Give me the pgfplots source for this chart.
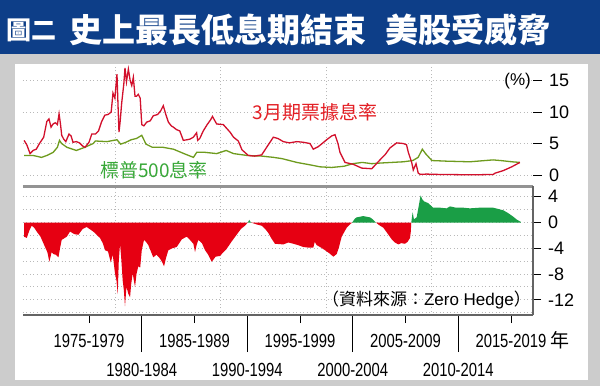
\documentclass[border=0pt]{standalone}
\usepackage{fontspec}
\usepackage{pgfplots}
\pgfplotsset{compat=1.18}
\setmainfont{Liberation Sans}
\newfontfamily\cjk{Noto Sans CJK TC}
\newfontfamily\narrow{Liberation Sans}[FakeStretch=0.78]

\definecolor{titleblue}{RGB}{13,62,136}
\definecolor{bggray}{RGB}{204,204,204}
\definecolor{tbred}{RGB}{210,16,44}
\definecolor{dyellow}{RGB}{110,155,30}
\definecolor{fillred}{RGB}{230,0,18}
\definecolor{fillgreen}{RGB}{26,158,70}
\definecolor{lblred}{RGB}{227,30,36}
\definecolor{lblgreen}{RGB}{56,168,56}
\definecolor{gridgray}{RGB}{185,185,185}
\definecolor{axisgray}{RGB}{100,100,100}

\begin{document}
\begin{tikzpicture}
\useasboundingbox (0pt,0pt) rectangle (600pt,386pt);
\fill[bggray] (0pt,0pt) rectangle (600pt,386pt);
\fill[titleblue] (0pt,332pt) rectangle (600pt,386pt);
\fill[white] (15pt,6pt) rectangle (588pt,322pt);

\node[anchor=west, inner sep=0, text=white] at (6pt,356pt) {\cjk\bfseries\fontsize{25}{25}\selectfont 圖二};
\node[anchor=west, inner sep=0, text=white] at (69pt,356pt) {\cjk\bfseries\fontsize{33}{33}\selectfont 史上最長低息期結束\hspace{0.6em}美股受威脅};

% upper panel
\begin{axis}[
  at={(23pt,199pt)}, anchor=south west, scale only axis,
  width=510pt, height=121pt,
  xmin=1971.24, xmax=2019.59, ymin=-1.9, ymax=17.3,
  clip=false,
  axis line style={draw=none},
  xtick={1980,1990,2000,2010}, xticklabels={,,,,},
  x tick style={draw=none},
  ytick={0,5,10,15}, ytick pos=right, yticklabel pos=right,
  tick align=outside, major tick length=9pt,
  y tick style={black, line width=0.8pt},
  xmajorgrids, ymajorgrids,
  grid style={gridgray, dash pattern=on 1pt off 2.5pt, line width=0.9pt},
  /pgf/number format/assume math mode=true,
  yticklabel style={font=\fontsize{18}{18}\selectfont, inner sep=2pt, xshift=5pt},
]
\addplot[dyellow, line width=1.3pt] coordinates {
(1971.34,3.1) (1972.2,3.1) (1973.0,2.8) (1973.5,3.1) (1974.1,3.6) (1974.5,4.4)
(1974.7,5.5) (1974.9,5.0) (1975.4,4.4) (1976.3,3.9) (1977.1,4.4) (1977.9,5.0)
(1978.1,5.4) (1979.2,5.3) (1980.15,5.6) (1980.5,4.9) (1981.0,5.2) (1981.5,5.6)
(1982.0,5.8) (1982.5,6.3) (1982.9,4.9) (1983.5,4.4) (1984.5,4.4) (1985.5,4.1)
(1986.5,3.4) (1987.4,2.8) (1987.71,3.6) (1988.5,3.6) (1989.6,3.4) (1990.5,3.9)
(1991.2,3.4) (1992.5,3.1) (1993.9,3.0) (1995.0,2.8) (1995.8,2.6) (1997.2,2.0)
(1998.5,1.6) (1999.4,1.3) (2000.5,1.2) (2001.7,1.4) (2002.5,1.8) (2003.4,2.0)
(2004.3,1.8) (2005.1,1.9) (2007.3,2.1) (2008.2,2.3) (2008.7,2.8) (2009.1,4.1)
(2009.4,3.4) (2010.0,2.3) (2011.4,2.2) (2013.6,2.1) (2015.8,2.4) (2016.5,2.3)
(2017.6,2.1) (2018.35,2.0)
};
\addplot[tbred, line width=1.3pt] coordinates {
(1971.34,5.5) (1971.6,4.8) (1971.91,3.4) (1972.2,3.9) (1972.5,4.1) (1972.8,5.0)
(1973.2,6.0) (1973.5,8.5) (1973.7,8.9) (1973.9,7.6) (1974.09,8.1) (1974.3,8.3)
(1974.5,8.0) (1974.66,9.7) (1974.8,8.0) (1974.91,6.3) (1975.1,5.7) (1975.3,5.3)
(1975.6,6.5) (1975.8,6.2) (1975.98,5.2) (1976.3,5.3) (1976.6,5.1) (1976.9,4.6)
(1977.12,4.4) (1977.5,5.2) (1977.76,6.5) (1978.1,6.5) (1978.4,7.0) (1978.7,8.5)
(1979.0,9.5) (1979.3,9.6) (1979.6,10.0) (1979.77,13.0) (1979.95,12.2) (1980.15,16.0)
(1980.25,11.0) (1980.34,6.8) (1980.45,8.5) (1980.6,11.5) (1980.8,14.5) (1980.91,17.0)
(1981.05,14.8) (1981.23,16.8) (1981.4,15.0) (1981.55,14.2) (1981.7,15.5) (1981.86,12.5)
(1982.0,12.5) (1982.17,12.8) (1982.35,12.2) (1982.5,8.0) (1982.7,7.8) (1982.97,8.4)
(1983.3,8.6) (1983.59,9.4) (1984.0,9.6) (1984.3,10.2) (1984.54,11.0) (1984.8,9.5)
(1985.02,8.4) (1985.3,7.8) (1985.49,7.6) (1985.8,7.2) (1986.1,7.0) (1986.44,5.5)
(1986.8,5.6) (1987.07,5.7) (1987.39,6.0) (1987.7,6.7) (1987.8,5.5) (1988.0,5.8)
(1988.33,7.0) (1988.7,8.0) (1989.04,8.8) (1989.2,9.3) (1989.6,8.1) (1990.23,8.0)
(1990.87,6.8) (1991.2,6.0) (1991.65,5.4) (1992.0,4.0) (1992.6,3.1) (1993.2,3.0)
(1993.87,3.2) (1994.34,4.4) (1994.97,6.0) (1995.4,5.8) (1995.92,5.3) (1996.5,5.1)
(1997.19,5.3) (1997.8,5.2) (1998.45,5.0) (1998.76,4.1) (1999.23,4.5) (1999.6,5.0)
(2000.03,5.6) (2000.5,6.2) (2000.82,6.4) (2001.1,5.0) (2001.29,3.6) (2001.77,2.0)
(2002.55,1.7) (2003.35,1.1) (2004.3,1.0) (2004.7,1.7) (2005.08,2.4) (2005.6,3.3)
(2006.03,4.3) (2006.67,5.1) (2007.29,5.0) (2007.6,4.8) (2007.77,3.6) (2008.09,2.0)
(2008.24,0.8) (2008.5,1.8) (2008.71,0.3) (2008.9,0.1) (2009.5,0.15) (2010.5,0.1)
(2012.0,0.07) (2014.0,0.03) (2015.82,0.1) (2016.0,0.3) (2016.77,0.7) (2017.57,1.3)
(2018.35,2.0)
};
\draw[axisgray!70, line width=2pt] (rel axis cs:0,0) -- (rel axis cs:1,0);
\end{axis}

\node[anchor=east, inner sep=0] at (531pt,305pt) {\fontsize{17}{17}\selectfont (\%)};
\node[text=lblred, inner sep=0] at (315pt,274pt) {\cjk\fontsize{19}{19}\selectfont 3月期票據息率};
\node[text=lblgreen, inner sep=0] at (154pt,216pt) {\cjk\fontsize{19}{19}\selectfont 標普500息率};

% lower panel
\begin{axis}[
  at={(23pt,71pt)}, anchor=south west, scale only axis,
  width=510pt, height=129pt,
  xmin=1971.24, xmax=2019.59, ymin=-14.36, ymax=5.67,
  clip=false,
  axis line style={draw=none},
  xtick={1977.5,1987.5,1997.5,2007.5,2017.5},
  xticklabels={1975-1979,1985-1989,1995-1999,2005-2009,2015-2019\rlap{\ \smash{\cjk 年}}},
  extra x ticks={1982.5,1992.5,2002.5,2012.5},
  extra x tick labels={1980-1984,1990-1994,2000-2004,2010-2014},
  extra x tick style={grid=none, major tick length=37pt},
  minor xtick={1980,1990,2000,2010}, xminorgrids,
  ytick={-12,-8,-4,0,4}, minor ytick={-14,-10,-6,-2,2},
  ymajorgrids, yminorgrids,
  minor tick length=0pt,
  xtick pos=bottom, ytick pos=right, yticklabel pos=right,
  tick align=outside, major tick length=8pt,
  tick style={black, line width=0.8pt},
  grid style={gridgray, dash pattern=on 1pt off 2.5pt, line width=0.9pt},
  minor grid style={gridgray, dash pattern=on 1pt off 2.5pt, line width=0.9pt},
  /pgf/number format/assume math mode=true,
  yticklabel style={font=\fontsize{18}{18}\selectfont, inner sep=2pt, xshift=5pt},
  xticklabel style={font=\narrow\fontsize{19}{19}\selectfont, yshift=-8pt},
]
\addplot[fill=fillred, draw=none] coordinates {
(1971.34,0) (1971.34,-2.2) (1971.6,-2.4) (1971.85,-1.2) (1972.07,-0.5) (1972.3,-0.8)
(1972.54,-1.4) (1972.9,-2.2) (1973.33,-3.8) (1973.55,-4.6) (1973.74,-6.1) (1973.95,-4.6)
(1974.12,-4.9) (1974.35,-5.0) (1974.6,-5.4) (1974.75,-4.0) (1974.91,-2.7) (1975.1,-2.5)
(1975.39,-2.2) (1975.7,-1.4) (1976.1,-1.8) (1976.49,-1.9) (1976.9,-1.0) (1977.28,-0.7)
(1977.9,-1.4) (1978.54,-2.4) (1978.8,-3.2) (1979.02,-4.3) (1979.3,-4.5) (1979.56,-6.2)
(1979.75,-5.0) (1979.96,-7.9) (1980.1,-9.0) (1980.22,-11.1) (1980.32,-6.0) (1980.44,-3.3)
(1980.55,-5.5) (1980.69,-9.0) (1980.8,-10.5) (1980.91,-13.0) (1981.05,-10.0) (1981.23,-11.1)
(1981.39,-11.6) (1981.5,-9.5) (1981.64,-7.9) (1981.75,-9.0) (1981.86,-10.0) (1982.0,-8.0)
(1982.17,-6.8) (1982.35,-7.0) (1982.5,-4.3) (1982.71,-2.7) (1982.9,-3.0) (1983.12,-3.5)
(1983.59,-5.4) (1983.9,-5.0) (1984.23,-5.6) (1984.45,-6.2) (1984.61,-6.8) (1984.8,-5.5)
(1985.02,-4.3) (1985.4,-4.0) (1985.81,-3.8) (1986.3,-2.6) (1986.76,-2.2) (1987.07,-2.7)
(1987.39,-3.3) (1987.55,-4.6) (1987.7,-3.5) (1987.86,-2.7) (1988.2,-3.2) (1988.5,-4.3)
(1988.8,-5.0) (1989.13,-6.1) (1989.5,-5.3) (1989.9,-5.2) (1990.54,-4.1) (1991.0,-3.0)
(1991.49,-1.9) (1991.9,-1.0) (1992.28,-0.5) (1992.55,0)
} \closedcycle;
\addplot[fill=fillred, draw=none] coordinates {
(1992.85,0) (1993.39,-0.3) (1993.87,-0.5) (1994.2,-1.0) (1994.49,-1.6) (1994.8,-2.5)
(1995.13,-3.3) (1995.92,-3.4) (1996.4,-3.1) (1996.87,-3.3) (1997.3,-3.5) (1997.81,-3.8)
(1998.3,-3.9) (1998.76,-3.9) (1998.9,-3.0) (1999.08,-3.5) (1999.5,-3.9) (1999.87,-4.3)
(2000.3,-4.8) (2000.66,-5.3) (2000.98,-4.9) (2001.2,-3.8) (2001.45,-2.2) (2001.93,-0.8)
(2002.3,-0.2) (2002.45,0)
} \closedcycle;
\addplot[fill=fillred, draw=none] coordinates {
(2004.7,0) (2005.0,-0.4) (2005.4,-0.8) (2005.8,-1.7) (2006.19,-2.6) (2006.5,-3.1)
(2006.82,-3.4) (2007.1,-3.2) (2007.45,-3.3) (2007.7,-3.0) (2007.93,-2.4) (2008.0,-1.5)
(2008.05,0)
} \closedcycle;
\addplot[fill=fillgreen, draw=none] coordinates {
(1992.55,0) (1992.69,0.4) (1992.85,0)
} \closedcycle;
\addplot[fill=fillgreen, draw=none] coordinates {
(2002.45,0) (2002.7,0.6) (2002.87,0.8) (2003.2,0.9) (2003.5,1.0) (2003.8,0.9)
(2004.14,0.8) (2004.4,0.5) (2004.7,0)
} \closedcycle;
\addplot[fill=fillgreen, draw=none] coordinates {
(2008.05,0) (2008.18,1.6) (2008.3,0.5) (2008.56,0.8) (2008.75,2.5) (2008.93,4.2)
(2009.1,3.6) (2009.25,3.3) (2009.66,3.0) (2010.13,2.3) (2010.8,2.3) (2011.4,2.2)
(2011.72,2.5) (2012.3,2.3) (2013.0,2.3) (2013.61,2.2) (2014.5,2.3) (2015.2,2.3)
(2015.82,2.3) (2016.3,2.1) (2016.77,1.9) (2017.2,1.5) (2017.72,0.9) (2018.1,0.4)
(2018.44,0.1) (2018.44,0)
} \closedcycle;
\draw[axisgray!70, line width=2pt] (rel axis cs:0,1) -- (rel axis cs:1,1);
\draw[axisgray, line width=1.5pt] (rel axis cs:1,1) -- (rel axis cs:1,0);
\draw[axisgray, line width=2pt] (rel axis cs:1,0) -- (rel axis cs:0,0);
\end{axis}

\node[anchor=east, inner sep=0] at (531pt,86.5pt) {\fontsize{17}{17}\selectfont {\cjk （資料來源：}Zero Hedge{\cjk ）}};
\end{tikzpicture}
\end{document}
